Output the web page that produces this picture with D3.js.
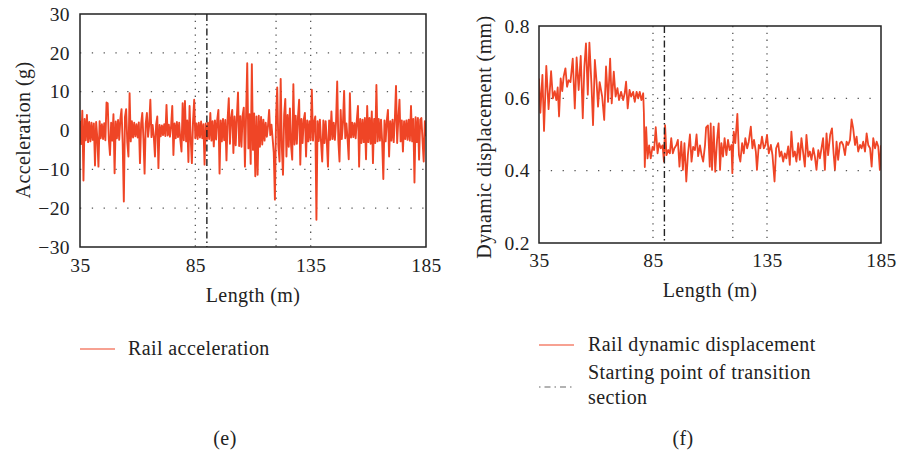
<!DOCTYPE html>
<html>
<head>
<meta charset="utf-8">
<style>
  body { margin: 0; background: #fff; }
  svg text { font-family: "Liberation Serif", "DejaVu Serif", serif; fill: #222; letter-spacing: 0.4px; }
</style>
</head>
<body>
<div id="chart"></div>
<script src="https://d3js.org/d3.v7.min.js"></script>
<script>
// ---- data ----
// panel (e): rail acceleration (g), one sample every 0.5 m starting at 35 m
const accStart = 35;
const accStep = 0.5;
const accValues = [
  2.5,-3.5,5.1,-12.9,3.0,-2.5,4.0,-3.0,2.2,-2.8,
  2.0,-2.4,1.8,-9.0,2.2,-1.9,-9.3,2.4,-2.0,1.6,
  -2.2,1.9,-2.5,7.2,7.0,-2.3,-6.3,2.0,-2.6,4.2,
  -11.0,2.3,-2.0,2.7,-2.4,3.0,5.5,-3.2,-18.3,3.5,
  5.5,-3.0,-6.7,9.6,-2.8,2.4,-1.8,2.0,-1.5,1.6,
  -1.8,2.1,-8.4,1.7,4.5,-2.0,-11.1,1.8,4.5,-1.6,
  1.5,7.9,-1.7,1.4,-1.6,-6.7,1.5,3.6,-9.7,1.4,
  -1.5,1.3,-1.2,1.6,-1.4,6.6,-1.3,1.5,-1.6,1.2,
  6.3,-6.3,1.8,-2.0,2.2,-1.7,2.0,-2.4,-5.4,7.0,
  -2.5,7.6,-2.8,2.6,-8.1,6.3,-2.2,-8.4,2.3,7.9,
  -2.0,1.8,-2.2,2.0,-1.8,2.3,-2.0,1.6,-8.8,1.8,
  -2.4,2.0,-2.2,4.5,-2.6,2.4,-4.1,2.6,-2.3,2.8,
  5.3,-11.1,2.6,-2.8,3.0,-2.5,2.7,-7.7,3.0,8.3,
  -3.4,3.2,5.3,-5.8,3.6,-3.8,3.4,9.8,-4.0,3.7,
  -4.2,3.9,5.9,-9.3,4.0,17.3,-4.6,4.2,-8.6,17.1,
  -5.0,4.4,-11.8,3.6,-11.4,3.8,-4.2,3.5,-3.6,2.8,
  -2.6,2.0,-1.6,1.2,5.3,-1.2,1.5,-2.0,-5.7,-17.8,
  3.5,11.1,-4.0,-8.0,13.3,-4.2,-11.4,4.0,8.1,-6.7,
  4.0,-4.2,5.7,-3.8,-7.5,11.9,-3.6,3.8,-3.4,3.5,
  7.9,-8.8,3.0,-3.2,2.8,4.5,-6.7,2.6,-2.8,2.4,
  -2.5,10.5,-2.6,2.2,3.6,-23.0,2.4,-2.7,2.8,-3.0,
  -8.0,2.6,-3.2,2.4,-2.8,-9.3,2.6,-2.4,4.9,-2.2,
  2.0,-2.4,2.2,12.6,-2.6,-8.0,5.3,-2.2,2.0,10.2,
  -2.0,1.8,-2.2,-7.4,9.6,-1.8,2.0,-1.7,1.9,-2.0,
  2.6,6.3,-9.3,3.0,-3.2,2.8,-3.0,3.2,-7.4,6.3,
  -3.0,3.2,-3.4,4.9,-8.4,3.0,-3.2,11.7,-2.8,3.0,
  -2.6,2.8,-3.0,-12.5,2.6,-2.8,2.5,5.3,-6.7,2.4,
  -2.6,2.8,-3.0,3.0,11.5,-3.2,3.0,7.9,-2.8,2.6,
  -5.4,2.4,-2.2,2.6,-2.4,2.8,-2.6,6.3,-2.8,3.0,
  -13.4,3.4,-3.0,3.2,-7.5,2.8,3.2,-2.6,-8.0,2.4,
  -1.5
];

// panel (f): rail dynamic displacement (mm)
const dispLength = [
  35,35.6,36.5,37.2,38.2,39.2,40.3,41.1,41.9,42.6,43.2,43.8,44.5,45.2,45.8,46.6,47.3,48,48.8,49.8,
  50.7,51.5,52.4,53.3,54.2,54.9,55.6,56.4,57.1,58,58.7,59.5,60.2,60.9,61.6,62.7,63.6,64.4,65.3,66.2,
  66.9,67.8,68.6,69.4,70.1,71,71.9,72.6,73.2,73.9,74.7,75.4,76.3,77,77.8,78.5,79.2,79.9,80.7,81,
  81.4,82,82.6,83.3,84,84.8,85.5,86.2,87,87.7,88.4,89.2,89.8,90.3,90.9,91.7,92.4,93,93.7,94.4,
  95.2,95.9,96.6,97.4,98.1,98.8,99.6,100.3,101.2,101.9,102.6,103.4,104.1,104.8,105.6,106.3,107,107.8,108.3,109.1,
  109.9,110.3,110.9,111.6,112.3,113.1,113.8,114.4,115,115.7,116.4,117.2,117.9,118.6,119.4,119.8,120.4,121.1,122,122.7,
  123.3,124.1,124.8,125.5,126.3,127,127.9,128.6,129.3,130.1,130.6,131.4,132.1,132.8,133.6,134.3,135,135.8,136.7,137.4,
  138.3,139,139.9,140.6,141.3,142.1,142.8,143.5,144.3,145,145.7,146.5,147.2,147.9,148.7,149.4,150.1,150.9,151.6,152.3,
  153.1,153.8,154.5,155.3,156,156.7,157.5,158.2,158.9,159.6,160.4,161.1,161.8,162.7,163.5,164.2,164.8,165.5,166.2,167,
  167.7,168.4,169.2,169.9,170.6,171.4,172.1,172.8,173.6,174.3,175,175.8,176.5,177.2,178,178.7,179.4,180.2,180.9,181.6,
  182.4,183.1,183.8,184.5,185
];
const dispValue = [
  .655,.56,.665,.51,.69,.57,.675,.60,.62,.595,.63,.55,.655,.62,.66,.683,.632,.65,.645,.71,
  .572,.713,.623,.717,.545,.688,.752,.61,.754,.64,.526,.706,.65,.577,.645,.605,.54,.688,.59,.71,
  .586,.674,.605,.628,.595,.618,.595,.614,.646,.572,.623,.605,.618,.59,.618,.60,.618,.595,.614,.56,
  .41,.52,.434,.47,.434,.466,.457,.52,.448,.476,.462,.47,.425,.526,.443,.457,.448,.49,.448,.462,
  .47,.485,.411,.48,.402,.476,.37,.443,.50,.425,.466,.457,.50,.44,.47,.443,.425,.47,.52,.525,
  .411,.531,.402,.522,.397,.485,.531,.402,.476,.439,.49,.443,.485,.457,.471,.393,.508,.476,.557,.443,
  .425,.476,.448,.49,.462,.48,.522,.462,.485,.453,.402,.471,.462,.494,.462,.471,.499,.448,.471,.443,
  .37,.462,.476,.439,.453,.425,.448,.434,.467,.416,.508,.439,.453,.425,.476,.43,.49,.448,.411,.499,
  .439,.453,.43,.462,.439,.402,.457,.434,.462,.49,.402,.503,.443,.499,.517,.448,.402,.48,.43,.476,
  .48,.471,.443,.48,.471,.485,.542,.517,.471,.494,.453,.471,.462,.48,.453,.503,.471,.462,.411,.49,
  .462,.48,.467,.402,.47
];

const xTicks = [35, 85, 135, 185];
const accTicks = [30, 20, 10, 0, -10, -20, -30];
const accGrid = [20, 10, -10, -20];
const dispTicks = [0.8, 0.6, 0.4, 0.2];
const dispGrid = [0.6, 0.4];
const dottedX = [85, 120, 135];
const transitionStart = 90;

const lineColor = "#ef4526";

const svg = d3.select("#chart").append("svg")
  .attr("width", 897)
  .attr("height", 451);

function drawPanel(p) {
  const x = d3.scaleLinear().domain([35, 185]).range([p.left, p.right]);
  const y = d3.scaleLinear().domain(p.yDomain).range([p.bottom, p.top]);
  const g = svg.append("g");

  g.append("clipPath").attr("id", p.id + "-clip")
    .append("rect")
    .attr("x", p.left).attr("y", p.top)
    .attr("width", p.right - p.left).attr("height", p.bottom - p.top);

  // dotted grid
  g.selectAll(".hgrid").data(p.grid).enter().append("line")
    .attr("x1", p.left).attr("x2", p.right)
    .attr("y1", d => y(d)).attr("y2", d => y(d))
    .attr("stroke", "#555").attr("stroke-width", 1.3)
    .attr("stroke-dasharray", "1.3,10.5");
  g.selectAll(".vgrid").data(dottedX).enter().append("line")
    .attr("x1", d => x(d)).attr("x2", d => x(d))
    .attr("y1", p.top).attr("y2", p.bottom)
    .attr("stroke", "#555").attr("stroke-width", 1.3)
    .attr("stroke-dasharray", "1.3,5.5");

  // data line
  g.append("path")
    .datum(p.data)
    .attr("clip-path", `url(#${p.id}-clip)`)
    .attr("fill", "none")
    .attr("stroke", lineColor)
    .attr("stroke-width", p.lineWidth)
    .attr("stroke-linejoin", "round")
    .attr("d", d3.line().x(d => x(d[0])).y(d => y(d[1])));

  // transition start (dash-dot)
  g.append("line")
    .attr("x1", x(transitionStart)).attr("x2", x(transitionStart))
    .attr("y1", p.top).attr("y2", p.bottom)
    .attr("stroke", "#222").attr("stroke-width", 1.4)
    .attr("stroke-dasharray", "7,3,1.5,3");

  // frame
  g.append("rect")
    .attr("x", p.left).attr("y", p.top)
    .attr("width", p.right - p.left).attr("height", p.bottom - p.top)
    .attr("fill", "none").attr("stroke", "#222").attr("stroke-width", 1.5);

  // axes (labels only)
  const xAxis = g.append("g")
    .attr("transform", `translate(0,${p.bottom})`)
    .call(d3.axisBottom(x).tickValues(xTicks).tickSize(0).tickPadding(p.xPad));
  const yAxis = g.append("g")
    .attr("transform", `translate(${p.left},0)`)
    .call(d3.axisLeft(y).tickValues(p.yTicks).tickSize(0).tickPadding(p.yPad).tickFormat(p.yFormat));
  [xAxis, yAxis].forEach(a => {
    a.select(".domain").remove();
    a.selectAll("text").attr("font-family", null).attr("font-size", 19.5).attr("fill", "#222");
  });

  g.append("text")
    .attr("x", (p.left + p.right) / 2).attr("y", p.xTitleY)
    .attr("text-anchor", "middle").attr("font-size", 20)
    .text("Length (m)");
  g.append("text")
    .attr("transform", `translate(${p.yTitleX},${p.yTitleY}) rotate(-90)`)
    .attr("text-anchor", "middle").attr("font-size", 20)
    .text(p.yTitle);
}

drawPanel({
  id: "acc", left: 80, right: 426, top: 14, bottom: 247,
  yDomain: [-30, 30], yTicks: accTicks, grid: accGrid, yFormat: d3.format("d"),
  data: accValues.map((v, i) => [accStart + i * accStep, v]),
  lineWidth: 1.9, xPad: 11.5, yPad: 10,
  xTitleY: 302, yTitleX: 30, yTitleY: 130, yTitle: "Acceleration (g)"
});

drawPanel({
  id: "disp", left: 539, right: 881, top: 26, bottom: 243,
  yDomain: [0.2, 0.8], yTicks: dispTicks, grid: dispGrid, yFormat: d3.format(".1f"),
  data: dispLength.map((l, i) => [l, dispValue[i]]),
  lineWidth: 1.8, xPad: 10.5, yPad: 9,
  xTitleY: 297, yTitleX: 491, yTitleY: 137, yTitle: "Dynamic displacement (mm)"
});

// legends and captions
svg.append("line").attr("x1", 80).attr("x2", 115).attr("y1", 349).attr("y2", 349)
  .attr("stroke", lineColor).attr("stroke-width", 1.2);
svg.append("text").attr("x", 128).attr("y", 355).attr("font-size", 20).text("Rail acceleration");
svg.append("text").attr("x", 225).attr("y", 445).attr("text-anchor", "middle").attr("font-size", 20).text("(e)");

svg.append("line").attr("x1", 539).attr("x2", 574).attr("y1", 345).attr("y2", 345)
  .attr("stroke", lineColor).attr("stroke-width", 1.2);
svg.append("text").attr("x", 588).attr("y", 351).attr("font-size", 20).text("Rail dynamic displacement");
svg.append("line").attr("x1", 539).attr("x2", 574).attr("y1", 387).attr("y2", 387)
  .attr("stroke", "#666").attr("stroke-width", 1.2)
  .attr("stroke-dasharray", "1.5,4,6,4");
svg.append("text").attr("x", 588).attr("y", 379).attr("font-size", 20).text("Starting point of transition");
svg.append("text").attr("x", 588).attr("y", 404).attr("font-size", 20).text("section");
svg.append("text").attr("x", 683).attr("y", 445).attr("text-anchor", "middle").attr("font-size", 20).text("(f)");
</script>
</body>
</html>
